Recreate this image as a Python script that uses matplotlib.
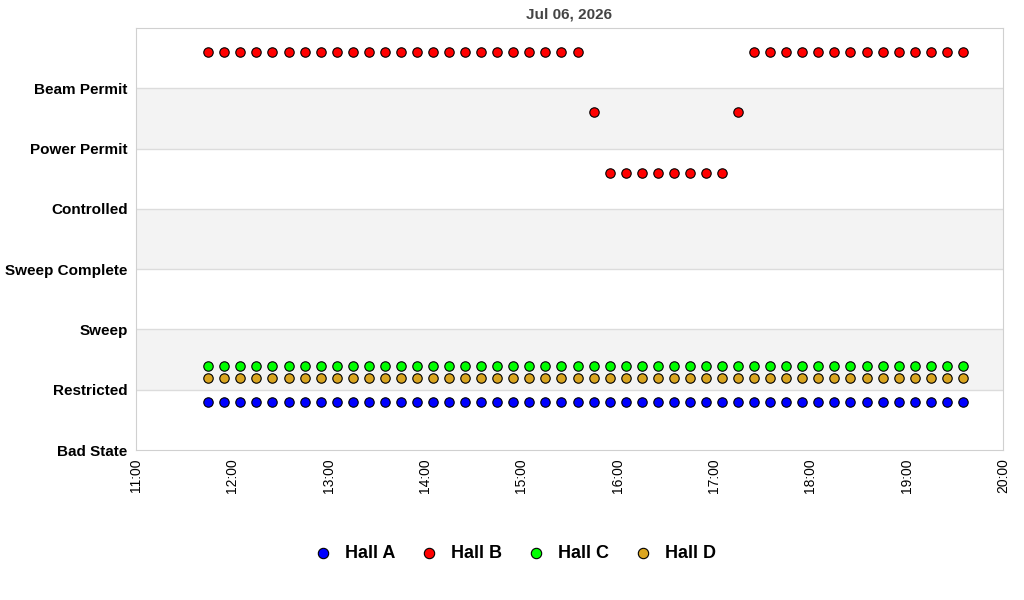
import matplotlib.pyplot as plt
import matplotlib.dates as mdates
import pandas as pd

plt.rcParams['font.family'] = ['Liberation Sans', 'DejaVu Sans']

# y axis categories, bottom to top
states = ["Bad State", "Restricted", "Sweep", "Sweep Complete",
          "Controlled", "Power Permit", "Beam Permit"]

# sample times (every 10 minutes)
times = pd.date_range("2026-07-06 11:45", "2026-07-06 19:35", freq="10min")

hall_a = [0.8] * 48
hall_c = [1.4] * 48
hall_d = [1.2] * 48
hall_b = ([6.6] * 24 + [5.6] + [4.6] * 8 + [5.6] + [6.6] * 14)

series = [
    ("Hall A", hall_a, "#0000ff"),
    ("Hall B", hall_b, "#ff0000"),
    ("Hall C", hall_c, "#00ff00"),
    ("Hall D", hall_d, "#daa520"),
]

fig = plt.figure(figsize=(10.24, 6), dpi=100)
ax = fig.add_axes([136 / 1024, 150 / 600, 867 / 1024, 422 / 600])

# alternating bands
for lo in (1, 3, 5):
    ax.axhspan(lo, lo + 1, color="#f3f3f3", zorder=0, lw=0)
for y in range(1, 7):
    ax.axhline(y, color="#dcdcdc", lw=1, zorder=1)

handles = []
for name, vals, col in series:
    h = ax.scatter(times, vals, s=46, color=col, edgecolor="black",
                   linewidth=0.8, zorder=3, label=name)
    handles.append(h)

ax.set_ylim(0, 7)
ax.set_yticks(range(7))
ax.set_yticklabels(states, fontsize=11, fontweight="bold")

ax.set_xlim(pd.Timestamp("2026-07-06 11:00"), pd.Timestamp("2026-07-06 20:00"))
ax.xaxis.set_major_locator(mdates.HourLocator())
ax.xaxis.set_major_formatter(mdates.DateFormatter("%H:%M"))
plt.setp(ax.get_xticklabels(), rotation=90, fontsize=10)
ax.tick_params(axis="x", length=0, pad=6)
ax.tick_params(axis="y", length=0, pad=6)

for sp in ax.spines.values():
    sp.set_color("#d0d0d0")

ax.set_title("Jul 06, 2026", fontsize=11, fontweight="bold", color="#444444", pad=7)

fig.legend(handles=handles, loc="center", bbox_to_anchor=(0.503, 0.078), ncol=4,
           frameon=False, prop={"size": 13, "weight": "bold"},
           handlelength=1.0, handletextpad=0.7, columnspacing=1.4, markerscale=1.1)

fig.savefig("out.png", dpi=100)
